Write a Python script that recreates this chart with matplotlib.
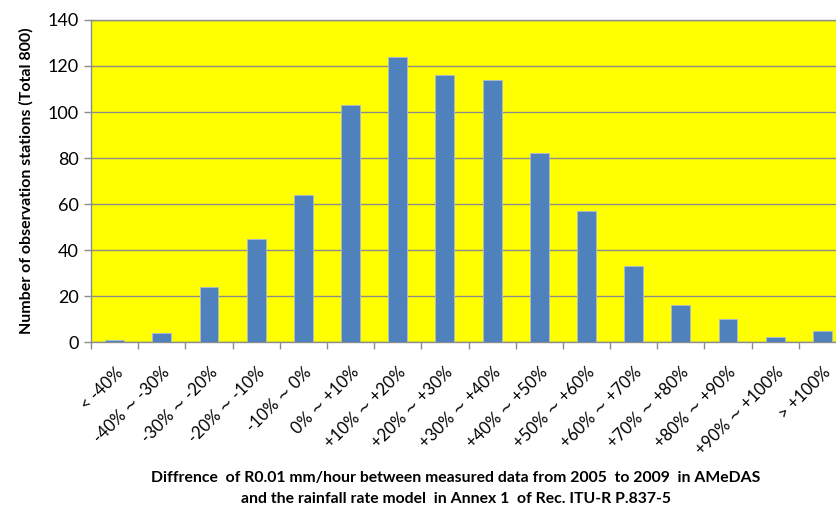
import matplotlib
matplotlib.use("Agg")
import matplotlib.pyplot as plt
import numpy as np

categories = ["< -40%", "-40% ∼ -30%", "-30% ∼ -20%", "-20% ∼ -10%", "-10% ∼ 0%",
              "0% ∼ +10%", "+10% ∼ +20%", "+20% ∼ +30%", "+30% ∼ +40%", "+40% ∼ +50%",
              "+50% ∼ +60%", "+60% ∼ +70%", "+70% ∼ +80%", "+80% ∼ +90%", "+90% ∼ +100%",
              "> +100%"]
counts = [1, 4, 24, 45, 64, 103, 124, 116, 114, 82, 57, 33, 16, 10, 2, 5]
yticks = [0, 20, 40, 60, 80, 100, 120, 140]

plt.rcParams['font.family'] = ['Lato', 'DejaVu Sans']

fig = plt.figure(figsize=(8.36, 5.11), dpi=100)
W, H = 836, 511
left, right, top, bottom = 91, 846, 20, 342
ax = fig.add_axes([left / W, (H - bottom) / H, (right - left) / W, (bottom - top) / H])
ax.set_facecolor('#FFFF00')

x = np.arange(len(categories))
ax.bar(x, counts, width=0.4, color='#4F81BD', edgecolor='#A8BCD8', linewidth=0.6, zorder=3)

ax.set_xlim(-0.5, len(categories) - 0.5)
ax.set_ylim(0, 140)
ax.set_yticks(yticks)
ax.yaxis.grid(True, color='#8C8C8C', linewidth=1.0, zorder=1)
ax.tick_params(axis='y', labelsize=13, length=5, color='#8C8C8C', width=1, pad=4)

ax.set_xticks(x)
ax.set_xticklabels(categories, rotation=45, ha='right', rotation_mode='anchor', fontsize=12)
ax.tick_params(axis='x', which='major', length=0, pad=16)
ax.set_xticks(np.arange(len(categories) + 1) - 0.5, minor=True)
ax.tick_params(axis='x', which='minor', length=5, color='#8C8C8C', width=1)

for s in ['top', 'right']:
    ax.spines[s].set_visible(False)
for s in ['left', 'bottom']:
    ax.spines[s].set_color('#8C8C8C')
    ax.spines[s].set_linewidth(1.0)
ax.plot([0, 1], [1, 1], transform=ax.transAxes, color='#8C8C8C', lw=1.0, clip_on=False, zorder=4)

ax.set_ylabel('Number of observation stations (Total 800)', fontsize=11.5, fontweight='bold', labelpad=10)

fig.text(456 / W, 1 - 478 / H, 'Diffrence  of R0.01 mm/hour between measured data from 2005  to 2009  in AMeDAS',
         ha='center', va='center', fontsize=11.3, fontweight='bold')
fig.text(456 / W, 1 - 499 / H, 'and the rainfall rate model  in Annex 1  of Rec. ITU-R P.837-5',
         ha='center', va='center', fontsize=11.3, fontweight='bold')

fig.savefig('out.png', dpi=100)
